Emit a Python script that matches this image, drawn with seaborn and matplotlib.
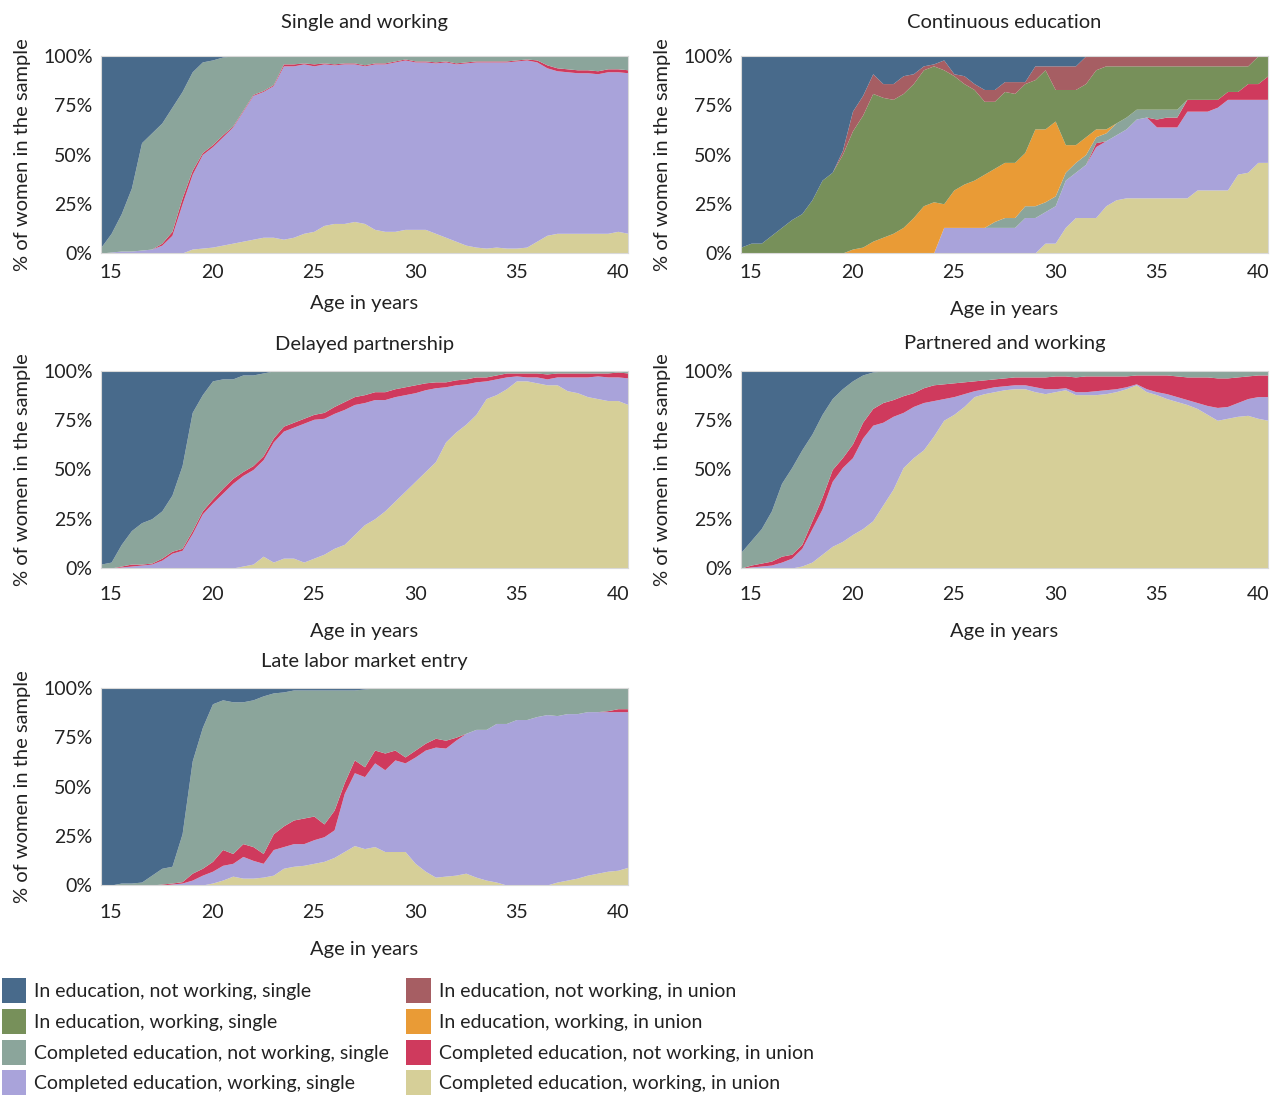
import matplotlib
matplotlib.use("Agg")
from matplotlib import pyplot as plt
from matplotlib.patches import Patch
import seaborn as sns

# age grid (half-year steps)
ages = [14.5, 15, 15.5, 16, 16.5, 17, 17.5, 18, 18.5, 19, 19.5, 20, 20.5, 21, 21.5, 22, 22.5,
        23, 23.5, 24, 24.5, 25, 25.5, 26, 26.5, 27, 27.5, 28, 28.5, 29, 29.5, 30, 30.5, 31,
        31.5, 32, 32.5, 33, 33.5, 34, 34.5, 35, 35.5, 36, 36.5, 37, 37.5, 38, 38.5, 39, 39.5,
        40, 40.5]

state_labels = {
    "en_s": "In education, not working, single",
    "ew_s": "In education, working, single",
    "cn_s": "Completed education, not working, single",
    "cw_s": "Completed education, working, single",
    "en_u": "In education, not working, in union",
    "ew_u": "In education, working, in union",
    "cn_u": "Completed education, not working, in union",
    "cw_u": "Completed education, working, in union",
}
legend_order = ["en_s", "ew_s", "cn_s", "cw_s", "en_u", "ew_u", "cn_u", "cw_u"]
stack_order = ["cw_u", "cw_s", "cn_u", "cn_s", "ew_u", "ew_s", "en_u", "en_s"]
state_colors = {
    "en_s": "#486a8b", "ew_s": "#77905a", "cn_s": "#8ba59b", "cw_s": "#a9a3da",
    "en_u": "#a65e63", "ew_u": "#e99b36", "cn_u": "#cf3a5d", "cw_u": "#d6cf98",
}

# % of women in each state, by age
single_working = {
    "en_s": [97, 90, 80, 67, 44, 39, 34, 26, 18, 8, 3, 2, 0.5, 0, 0, 0, 0, 0, 0, 0, 0, 0, 0, 0,
             0, 0, 0, 0, 0, 0, 0, 0, 0, 0, 0, 0, 0, 0, 0, 0, 0, 0, 0, 0, 0, 0, 0, 0, 0, 0, 0, 0, 0],
    "cn_s": [3, 9.5, 19, 32, 54.5, 59, 61, 63, 54, 50, 46, 43, 39.5, 35.5, 27.5, 19.5, 17.5, 14.5,
             4, 4, 3.5, 4, 3.5, 4, 3.5, 3.5, 4.5, 3.5, 3.5, 2.5, 1.5, 2.5, 2.5, 3, 2.5, 3.5, 3,
             2.5, 2.5, 2.5, 2.5, 2, 1.5, 2, 4.5, 6, 6.5, 7, 7, 7.5, 6.5, 6.5, 7],
    "cn_u": [0, 0, 0, 0, 0, 0, 1, 2, 3, 2, 1, 1, 1, 0.5, 0.5, 0.5, 0.5, 0.5, 1, 1, 0.5, 1, 0.5,
             0.5, 0.5, 0.5, 0.5, 0.5, 0.5, 0.5, 0.5, 0.5, 0.5, 0.5, 0.5, 0.5, 0.5, 0.5, 0.5, 0.5,
             0.5, 0.5, 0.5, 1, 1.5, 1.5, 1.5, 1.5, 1.5, 1.5, 1.5, 1.5, 1.5],
    "cw_s": [0, 0.5, 1, 1, 1.5, 2, 4, 9, 25, 38, 47.5, 51, 55, 59, 66, 73, 74, 77, 88, 87, 86, 84,
             82, 80.5, 81, 80, 80, 84, 85, 86, 86, 85, 85, 86.5, 89, 90, 92.5, 94, 94.5, 94, 94.5,
             95, 95, 91, 85, 82.5, 82, 81.5, 81.5, 81, 82, 81, 81.5],
    "cw_u": [0, 0, 0, 0, 0, 0, 0, 0, 0, 2, 2.5, 3, 4, 5, 6, 7, 8, 8, 7, 8, 10, 11, 14, 15, 15, 16,
             15, 12, 11, 11, 12, 12, 12, 10, 8, 6, 4, 3, 2.5, 3, 2.5, 2.5, 3, 6, 9, 10, 10, 10,
             10, 10, 10, 11, 10],
}

continuous_education = {
    "en_s": [97, 95, 95, 91, 87, 83, 80, 73, 63, 59, 48, 28, 20, 9, 14, 14, 10, 9, 5, 4, 2, 9,
             10, 14, 17, 17, 13, 13, 13, 5, 5, 5, 5, 5, 0, 0, 0, 0, 0, 0, 0, 0, 0, 0, 0, 0, 0, 0,
             0, 0, 0, 0, 0],
    "en_u": [0, 0, 0, 0, 0, 0, 0, 0, 0, 0, 2, 10, 10, 10, 7, 8, 9, 5, 2, 1, 5, 1, 4, 3, 6, 6, 5,
             6, 1, 7, 2, 12, 12, 12, 14, 7, 5, 5, 5, 5, 5, 5, 5, 5, 5, 5, 5, 5, 5, 5, 5, 0, 0],
    "ew_s": [3, 5, 5, 9, 13, 17, 20, 27, 37, 41, 50, 60, 67, 75, 71, 68, 68, 68, 69, 69, 68, 58,
             51, 46, 37, 34, 36, 35, 35, 25, 30, 16, 28, 28, 27, 30, 32, 29, 26, 22, 22, 22, 22,
             22, 17, 17, 17, 17, 13, 13, 9, 14, 10],
    "ew_u": [0, 0, 0, 0, 0, 0, 0, 0, 0, 0, 0, 2, 3, 6, 8, 10, 13, 18, 24, 26, 12, 19, 22, 24, 27,
             27, 28, 28, 27, 39, 37, 38, 14, 9, 9, 4, 2, 0, 0, 0, 0, 0, 0, 0, 0, 0, 0, 0, 0, 0, 0,
             0, 0],
    "cn_s": [0, 0, 0, 0, 0, 0, 0, 0, 0, 0, 0, 0, 0, 0, 0, 0, 0, 0, 0, 0, 0, 0, 0, 0, 0, 3, 5, 5,
             6, 6, 5, 5, 4, 5, 5, 3, 4, 6, 6, 5, 4, 5, 4, 4, 0, 0, 0, 0, 0, 0, 0, 0, 0],
    "cn_u": [0, 0, 0, 0, 0, 0, 0, 0, 0, 0, 0, 0, 0, 0, 0, 0, 0, 0, 0, 0, 0, 0, 0, 0, 0, 0, 0, 0,
             0, 0, 0, 0, 0, 0, 0, 2, 0, 0, 0, 0, 0, 4, 5, 5, 6, 6, 6, 4, 4, 4, 8, 8, 12],
    "cw_s": [0, 0, 0, 0, 0, 0, 0, 0, 0, 0, 0, 0, 0, 0, 0, 0, 0, 0, 0, 0, 13, 13, 13, 13, 13, 13,
             13, 13, 18, 18, 16, 19, 24, 23, 27, 36, 33, 33, 35, 40, 41, 36, 36, 36, 44, 40, 40,
             42, 46, 38, 37, 32, 32],
    "cw_u": [0, 0, 0, 0, 0, 0, 0, 0, 0, 0, 0, 0, 0, 0, 0, 0, 0, 0, 0, 0, 0, 0, 0, 0, 0, 0, 0, 0,
             0, 0, 5, 5, 13, 18, 18, 18, 24, 27, 28, 28, 28, 28, 28, 28, 28, 32, 32, 32, 32, 40,
             41, 46, 46],
}

delayed_partnership = {
    "en_s": [98, 97, 88, 81, 77, 75, 71, 63, 48, 21, 12, 5, 4, 4, 2, 2, 1, 0, 0, 0, 0, 0, 0, 0,
             0, 0, 0, 0, 0, 0, 0, 0, 0, 0, 0, 0, 0, 0, 0, 0, 0, 0, 0, 0, 0, 0, 0, 0, 0, 0, 0, 0, 0],
    "cn_s": [2, 3, 11, 17, 21, 22.5, 24, 28.5, 42, 60, 59, 60, 55.5, 50.5, 49, 46, 42, 34, 28,
             26, 24, 22, 21, 18, 15.5, 13, 12, 10.5, 10.5, 9, 8, 7, 6, 5.4, 5.4, 4.6, 4, 3, 3,
             2, 1.2, 1, 1, 1, 1.5, 1, 1, 1, 1, 1, 1, 0.5, 1],
    "cn_u": [0, 0, 0.5, 1, 0.5, 0.5, 1, 1, 1, 1.5, 1.5, 2, 2.5, 2.5, 2, 2, 2, 2, 2.5, 2.5, 2.5,
             2.5, 3, 3.5, 4, 4, 4, 4, 4, 4, 4, 4, 3.5, 3, 2.5, 2.5, 2.5, 2.5, 2, 2, 2, 1.5, 2, 2,
             2.5, 2, 2, 2, 2, 1.5, 2, 2.5, 2.5],
    "cw_s": [0, 0, 0.5, 1, 1.5, 2, 4, 7.5, 9, 17.5, 27.5, 33, 38, 43, 46, 48, 49, 61, 64.5,
             66.5, 70.5, 70.5, 69, 68.5, 68.5, 66, 62, 60.5, 56.5, 53, 49, 45, 41.5, 37.5, 28,
             24, 20.5, 16.5, 9, 8, 6, 2.5, 2, 3, 3, 4, 7, 8, 10, 11.5, 12, 12, 13.5],
    "cw_u": [0, 0, 0, 0, 0, 0, 0, 0, 0, 0, 0, 0, 0, 0, 1, 2, 6, 3, 5, 5, 3, 5, 7, 10, 12, 17, 22,
             25, 29, 34, 39, 44, 49, 54, 64, 69, 73, 78, 86, 88, 91, 95, 95, 94, 93, 93, 90, 89,
             87, 86, 85, 85, 83],
}

partnered_working = {
    "en_s": [92, 86, 80, 71, 57, 49, 40, 32, 22, 14, 9, 5, 2, 0.5, 0, 0, 0, 0, 0, 0, 0, 0, 0, 0,
             0, 0, 0, 0, 0, 0, 0, 0, 0, 0, 0, 0, 0, 0, 0, 0, 0, 0, 0, 0, 0, 0, 0, 0, 0, 0, 0, 0, 0],
    "cn_s": [8, 12.5, 17.5, 25.5, 37, 44, 48, 44, 42, 36, 35, 32, 24, 18.5, 16, 14.5, 12.5, 11,
             8.5, 7, 6.5, 6, 5.5, 5, 4.5, 4, 3.5, 3, 3, 3, 3, 2.5, 2.5, 3, 2.5, 2.5, 2.5, 2.5,
             2.5, 2, 2, 2, 2, 2.5, 3, 3, 3, 3.5, 3.5, 3, 2.5, 2, 2],
    "cn_u": [0, 1, 1.5, 2, 3, 2, 2, 4, 6, 6, 5, 7, 8, 8.5, 10, 8.5, 8.5, 7, 7.5, 8, 7.5, 7, 6, 5,
             4.5, 4, 4, 4, 4, 5, 6, 6.5, 6, 7.5, 8, 7.5, 7, 6.5, 5.5, 4.5, 7, 8.5, 9.5, 10.5,
             11.5, 13, 14.5, 15, 14.5, 13, 11.5, 11, 11],
    "cw_s": [0, 0.5, 1, 1.5, 3, 5, 9, 17, 23, 33, 37.5, 39, 46, 48.5, 42, 37, 28, 26, 24, 18, 11,
             9, 6.5, 3, 2.5, 2.5, 2, 2, 2, 2.5, 2.5, 1.5, 1, 1.5, 1.5, 2, 2, 1.5, 1, 0.5, 1.5,
             1.5, 2.5, 2.5, 2.5, 3, 4.5, 6.5, 6, 7, 8.5, 11, 12],
    "cw_u": [0, 0, 0, 0, 0, 0, 1, 3, 7, 11, 13.5, 17, 20, 24, 32, 40, 51, 56, 60, 67, 75, 78, 82,
             87, 88.5, 89.5, 90.5, 91, 91, 89.5, 88.5, 89.5, 90.5, 88, 88, 88, 88.5, 89.5, 91,
             93, 89.5, 88, 86, 84.5, 83, 81, 78, 75, 76, 77, 77.5, 76, 75],
}

late_entry = {
    "en_s": [100, 100, 99, 99, 98.5, 95, 91.5, 90.5, 74, 37, 20, 8, 6, 7, 7, 6, 4, 2.5, 2, 1, 1,
             1, 1, 1, 1, 1, 0.5, 0, 0, 0, 0, 0, 0, 0, 0, 0, 0, 0, 0, 0, 0, 0, 0, 0, 0, 0, 0, 0,
             0, 0, 0, 0, 0],
    "cn_s": [0, 0, 1, 1, 1.5, 5, 8, 8.5, 24.3, 57, 71.5, 80, 76, 77, 72, 74.5, 80, 71.5, 68, 66,
             65, 64, 68, 61, 47, 35.5, 39.5, 31.5, 33, 31.5, 35, 31.5, 28, 25.5, 26.5, 25, 23,
             21, 21, 18, 18, 16, 16, 14.5, 13.5, 14, 13, 13, 12, 12, 11.5, 10.5, 10.5],
    "cn_u": [0, 0, 0, 0, 0, 0, 0.5, 0.5, 0.7, 3.5, 3.5, 5, 8, 5, 6.5, 7, 5, 8, 10.5, 12, 13, 12,
             6.5, 10, 5.5, 6.5, 5, 6.5, 8.5, 5, 3, 3.5, 3.5, 4.5, 4, 1.5, 0, 0, 0, 0, 0, 0, 0, 0,
             0, 0, 0, 0, 0, 0, 0.5, 1.5, 1.5],
    "cw_s": [0, 0, 0, 0, 0, 0, 0, 0.5, 1, 2.5, 5, 6, 7.5, 6.5, 11, 9, 7, 13, 11, 11.5, 11, 12,
             12.5, 14, 29.5, 37, 36.5, 42.5, 41.5, 46.5, 45, 54, 61.5, 66, 65, 68.5, 71, 75,
             76.5, 80.5, 82, 84, 84, 85.5, 86.5, 84.5, 84.5, 83.5, 83, 82, 81, 80.5, 79],
    "cw_u": [0, 0, 0, 0, 0, 0, 0, 0, 0, 0, 0, 1, 2.5, 4.5, 3.5, 3.5, 4, 5, 8.5, 9.5, 10, 11, 12,
             14, 17, 20, 18.5, 19.5, 17, 17, 17, 11, 7, 4, 4.5, 5, 6, 4, 2.5, 1.5, 0, 0, 0, 0, 0,
             1.5, 2.5, 3.5, 5, 6, 7, 7.5, 9],
}

sns.set_theme(style="white")
plt.rcParams["font.family"] = ["Lato", "DejaVu Sans"]
text_col = "#222222"

W, H = 1280, 1095
fig = plt.figure(figsize=(12.8, 10.95), dpi=100)

# (title, data, left px, top px, title pad, tick pad, xlabel pad)
panels = [
    ("Single and working", single_working, 101, 56, 20, 8, 10),
    ("Continuous education", continuous_education, 741, 56, 20, 8, 14),
    ("Delayed partnership", delayed_partnership, 101, 371, 15, 13, 14),
    ("Partnered and working", partnered_working, 741, 371, 16, 13, 14),
    ("Late labor market entry", late_entry, 101, 688, 15, 14, 14),
]

zeros = [0] * len(ages)
for title, data, left, top, tpad, xpad, lpad in panels:
    ax = fig.add_axes([left / W, 1 - (top + 197) / H, 527 / W, 197 / H])
    ys = [data.get(k, zeros) for k in stack_order]
    ax.stackplot(ages, ys, colors=[state_colors[k] for k in stack_order], linewidth=0)
    ax.set_xlim(14.5, 40.5)
    ax.set_ylim(0, 100)
    ax.set_xticks([15, 20, 25, 30, 35, 40])
    ax.set_yticks([0, 25, 50, 75, 100])
    ax.set_yticklabels([f"{v}%" for v in [0, 25, 50, 75, 100]])
    ax.tick_params(axis="x", length=0, pad=xpad, labelsize=14, colors=text_col)
    ax.tick_params(axis="y", length=0, pad=6, labelsize=14, colors=text_col)
    ax.set_title(title, fontsize=14.5, pad=tpad, color=text_col)
    ax.set_xlabel("Age in years", fontsize=14.5, labelpad=lpad, color=text_col)
    ax.set_ylabel("% of women in the sample", fontsize=14.5, labelpad=9, color=text_col)
    for sp in ax.spines.values():
        sp.set_color("#d9d9d9")
        sp.set_linewidth(0.8)

handles = [Patch(facecolor=state_colors[k], edgecolor="none") for k in legend_order]
fig.legend(handles, [state_labels[k] for k in legend_order], ncol=2, loc="upper left",
           bbox_to_anchor=(2 / W, 1 - 978 / H), frameon=False, fontsize=14,
           handlelength=1.25, handleheight=1.6, handletextpad=0.4, labelspacing=0.3,
           columnspacing=0.9, borderpad=0, borderaxespad=0, labelcolor=text_col)

fig.savefig("out.png", dpi=100)
